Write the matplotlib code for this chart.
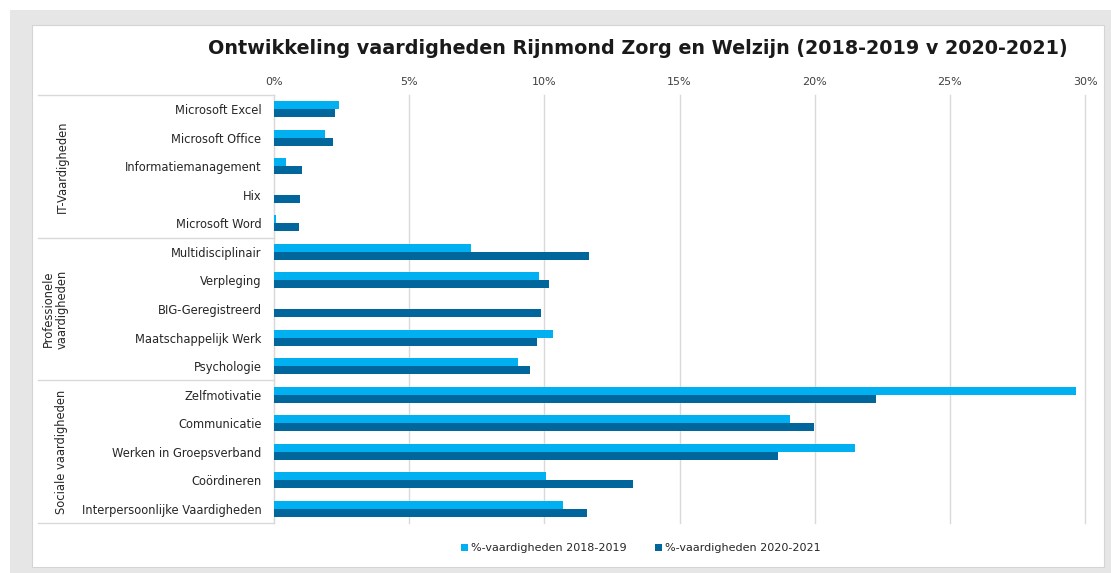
import matplotlib
matplotlib.use("Agg")
import matplotlib.pyplot as plt
import matplotlib.transforms as mtransforms
from matplotlib.patches import Rectangle, Patch
from matplotlib.lines import Line2D
from matplotlib.ticker import PercentFormatter
import numpy as np

# Data
categorieen = ["Microsoft Excel", "Microsoft Office", "Informatiemanagement", "Hix",
               "Microsoft Word", "Multidisciplinair", "Verpleging", "BIG-Geregistreerd",
               "Maatschappelijk Werk", "Psychologie", "Zelfmotivatie", "Communicatie",
               "Werken in Groepsverband", "Coördineren", "Interpersoonlijke Vaardigheden"]
groepen = ["IT-Vaardigheden", "Professionele\nvaardigheden", "Sociale vaardigheden"]
groep_grootte = [5, 5, 5]
series = ["%-vaardigheden 2018-2019", "%-vaardigheden 2020-2021"]
waarden_2018 = [2.40, 1.90, 0.44, 0.0, 0.06, 7.28, 9.81, 0.0, 10.32, 9.04,
                29.65, 19.08, 21.51, 10.06, 10.68]
waarden_2020 = [2.26, 2.19, 1.05, 0.96, 0.94, 11.64, 10.16, 9.89, 9.74, 9.46,
                22.26, 19.99, 18.63, 13.27, 11.59]

licht = "#00B0F0"
donker = "#00669C"
tekst = "#262626"
W, H = 1111, 573

fig = plt.figure(figsize=(W / 100, H / 100), dpi=100)
fig.patch.set_facecolor("white")

# grijze rand + wit paneel
fig.patches.append(Rectangle((10 / W, 0), 1 - 10 / W, 1 - 10 / H, transform=fig.transFigure,
                             facecolor="#e6e6e6", edgecolor="none", zorder=-3))
fig.patches.append(Rectangle((32 / W, 1 - 567 / H), (1104 - 32) / W, (567 - 25) / H,
                             transform=fig.transFigure, facecolor="white",
                             edgecolor="#d4d4d4", linewidth=0.8, zorder=-2))

ax = fig.add_axes([274 / W, 1 - 523 / H, (1085 - 274) / W, (523 - 95) / H])
ax.set_facecolor("none")

y = np.arange(len(categorieen))
h = 0.28
ax.barh(y - h / 2, np.array(waarden_2018) / 100, height=h, color=licht, label=series[0], zorder=3)
ax.barh(y + h / 2, np.array(waarden_2020) / 100, height=h, color=donker, label=series[1], zorder=3)

ax.set_xlim(0, 0.30)
ax.set_ylim(len(categorieen) - 0.5, -0.5)
ax.set_xticks(np.arange(0, 0.31, 0.05))
ax.xaxis.set_major_formatter(PercentFormatter(1.0, decimals=0))
ax.xaxis.tick_top()
ax.tick_params(axis="x", length=0, pad=6, labelsize=8, labelcolor="#404040")
ax.set_yticks(y)
ax.set_yticklabels(categorieen)
ax.tick_params(axis="y", length=0, pad=9, labelsize=8.3, labelcolor=tekst)
ax.grid(axis="x", color="#d9d9d9", linewidth=1, zorder=0)
for gl in ax.get_xgridlines():
    gl.set_clip_on(False)
for s in ["top", "right", "bottom"]:
    ax.spines[s].set_visible(False)
ax.spines["left"].set_color("#d9d9d9")

# groepslabels en scheidingslijnen
trans = mtransforms.blended_transform_factory(fig.transFigure, ax.transData)
grens = [-0.5]
for g in groep_grootte:
    grens.append(grens[-1] + g)
for yy in grens:
    ax.add_line(Line2D([38 / W, 274 / W], [yy, yy], transform=trans, color="#d9d9d9",
                       linewidth=1, clip_on=False))
for i, naam in enumerate(groepen):
    mid = (grens[i] + grens[i + 1]) / 2
    xpos = 55 / W if "\n" in naam else 62 / W
    ax.text(xpos, mid, naam, transform=trans, rotation=90, ha="center", va="center",
            fontsize=8.3, color=tekst, linespacing=1.1)

fig.text(638 / W, 1 - 48 / H, "Ontwikkeling vaardigheden Rijnmond Zorg en Welzijn (2018-2019 v 2020-2021)",
         ha="center", va="center", fontsize=13.8, fontweight="bold", color="#1a1a1a")

handles = [Patch(facecolor=licht), Patch(facecolor=donker)]
fig.legend(handles, series, loc="center", bbox_to_anchor=(641 / W, 1 - 548 / H), ncol=2,
           frameon=False, fontsize=8, handlelength=0.6, handleheight=0.6, handletextpad=0.3,
           columnspacing=2.5, labelcolor=tekst)

fig.savefig("out.png", dpi=100, facecolor=fig.get_facecolor())
